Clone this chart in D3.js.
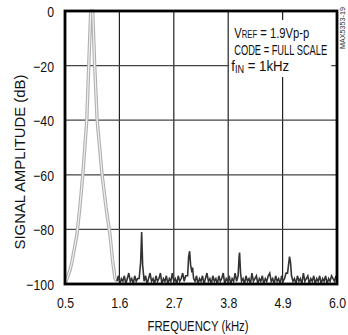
<!DOCTYPE html>
<html>
<head>
<meta charset="utf-8">
<script src="https://cdn.jsdelivr.net/npm/d3@7"></script>
<style>
  body { margin: 0; background: #fff; }
  svg { display: block; font-family: "Liberation Sans", Arial, sans-serif; }
</style>
</head>
<body>
<svg id="chart" width="348" height="335"></svg>
<script>
// axis ticks
const xTicks = [0.5, 1.6, 2.7, 3.8, 4.9, 6.0]
const yTicks = [0, -20, -40, -60, -80, -100]

// fundamental lobe (kHz, dB)
const lobeFreq = [0.50, 0.52, 0.56, 0.60, 0.64, 0.68, 0.74, 0.80, 0.86, 0.90, 0.94, 0.97, 1.00, 1.02, 1.06, 1.08, 1.10, 1.15, 1.20, 1.25, 1.33, 1.41, 1.46, 1.51, 1.55]
const lobeDb   = [-100, -99, -97, -95, -92, -88, -82, -72, -60, -50, -40, -25, -10, 0, 0, -10, -20, -40, -50, -60, -72, -82, -91, -98, -99]

// noise floor and harmonics (kHz, dB)
const floorFreq = [1.55, 1.58, 1.61, 1.64, 1.67, 1.70, 1.73, 1.76, 1.79, 1.82, 1.85, 1.88, 1.91, 1.94, 1.97, 2.00, 2.03, 2.05, 2.07, 2.10, 2.13, 2.16, 2.19, 2.22, 2.25, 2.28, 2.31, 2.34, 2.37, 2.40, 2.43, 2.46, 2.49, 2.52, 2.55, 2.58, 2.61, 2.64, 2.67, 2.70, 2.73, 2.76, 2.79, 2.82, 2.85, 2.88, 2.91, 2.94, 2.98, 3.00, 3.02, 3.04, 3.06, 3.08, 3.10, 3.13, 3.16, 3.19, 3.22, 3.25, 3.28, 3.31, 3.34, 3.37, 3.40, 3.43, 3.46, 3.49, 3.52, 3.55, 3.58, 3.61, 3.64, 3.67, 3.70, 3.73, 3.76, 3.79, 3.82, 3.85, 3.88, 3.91, 3.94, 3.97, 4.00, 4.02, 4.03, 4.05, 4.07, 4.10, 4.13, 4.16, 4.19, 4.22, 4.25, 4.28, 4.31, 4.34, 4.37, 4.40, 4.43, 4.46, 4.49, 4.52, 4.55, 4.58, 4.61, 4.64, 4.67, 4.70, 4.73, 4.76, 4.79, 4.82, 4.85, 4.88, 4.91, 4.94, 4.97, 5.00, 5.02, 5.04, 5.06, 5.08, 5.11, 5.14, 5.17, 5.20, 5.23, 5.26, 5.29, 5.32, 5.35, 5.38, 5.41, 5.44, 5.47, 5.50, 5.53, 5.56, 5.59, 5.62, 5.65, 5.68, 5.71, 5.74, 5.77, 5.80, 5.83, 5.86, 5.89, 5.92, 5.95, 5.98]
const floorDb   = [-99, -97, -100, -98, -99, -97, -100, -98, -96, -99, -98, -100, -97, -99, -98, -98, -92, -81, -93, -99, -97, -100, -98, -96, -99, -98, -100, -97, -99, -98, -96, -100, -98, -99, -97, -100, -98, -99, -96, -99, -98, -100, -97, -99, -98, -96, -99, -97, -97, -90, -88, -93, -95, -94, -98, -99, -97, -100, -98, -99, -97, -100, -98, -96, -99, -98, -100, -97, -99, -98, -100, -97, -99, -98, -96, -100, -98, -99, -97, -100, -98, -99, -96, -99, -97, -90, -88.5, -96, -99, -98, -100, -97, -99, -98, -100, -96, -99, -98, -97, -100, -98, -99, -97, -100, -98, -99, -97, -96, -99, -98, -100, -97, -99, -98, -100, -97, -99, -98, -96, -96, -93, -90, -92, -97, -99, -98, -100, -97, -99, -98, -100, -96, -99, -98, -97, -100, -98, -99, -97, -100, -98, -99, -97, -100, -98, -99, -97, -100, -98, -99, -97, -98, -99, -97]

const MARGIN = { LEFT: 65, RIGHT: 11, TOP: 11, BOTTOM: 51 }
const WIDTH = 348 - MARGIN.LEFT - MARGIN.RIGHT
const HEIGHT = 335 - MARGIN.TOP - MARGIN.BOTTOM

const svg = d3.select("#chart")
const g = svg.append("g").attr("transform", `translate(${MARGIN.LEFT}, ${MARGIN.TOP})`)

// squeeze a text to look like the narrow Helvetica of the original
function narrow(sel, w) {
    sel.each(function () {
        const len = w || this.getComputedTextLength() * 0.82
        d3.select(this).attr("textLength", len).attr("lengthAdjust", "spacingAndGlyphs")
    })
}

// scales
const x = d3.scaleLinear().domain([0.5, 6.0]).range([0, WIDTH])
const y = d3.scaleLinear().domain([-100, 0]).range([HEIGHT, 0])

// grid
g.append("g").selectAll("line").data(xTicks.slice(1, -1)).join("line")
    .attr("x1", d => x(d)).attr("x2", d => x(d))
    .attr("y1", 0).attr("y2", HEIGHT)
    .attr("stroke", "#222").attr("stroke-width", 1.2)
g.append("g").selectAll("line").data(yTicks.slice(1, -1)).join("line")
    .attr("x1", 0).attr("x2", WIDTH)
    .attr("y1", d => y(d)).attr("y2", d => y(d))
    .attr("stroke", "#444").attr("stroke-width", 1.2)

// spectrum
const line = d3.line().x(d => x(d[0])).y(d => y(d[1]))
const lobe = lobeFreq.map((f, i) => [f, lobeDb[i]])
const floor = floorFreq.map((f, i) => [f, floorDb[i]])

g.append("path").attr("d", line(lobe)).attr("fill", "none")
    .attr("stroke", "#b0b0b0").attr("stroke-width", 3.4).attr("stroke-linejoin", "round")
g.append("path").attr("d", line(lobe)).attr("fill", "none")
    .attr("stroke", "#f0f0f0").attr("stroke-width", 1.2).attr("stroke-linejoin", "round")
g.append("path").attr("d", line(floor)).attr("fill", "none")
    .attr("stroke", "#333").attr("stroke-width", 1.6)

// annotation box
const bx = x(3.8)
g.append("rect")
    .attr("x", bx + 1).attr("y", 9)
    .attr("width", 102).attr("height", 57)
    .attr("fill", "#fff")
const l1 = g.append("text").attr("x", bx + 6).attr("y", 27).attr("font-size", 14.5).attr("fill", "#111")
l1.append("tspan").text("V")
l1.append("tspan").attr("font-size", 10).text("REF")
l1.append("tspan").text(" = 1.9Vp-p")
narrow(l1, 75)
const l2 = g.append("text").attr("x", bx + 6).attr("y", 43.5).attr("font-size", 14.5).attr("fill", "#111")
    .text("CODE = FULL SCALE")
narrow(l2, 93)
const l3 = g.append("text").attr("x", bx + 3).attr("y", 60).attr("font-size", 14.5).attr("fill", "#111")
l3.append("tspan").text("f")
l3.append("tspan").attr("font-size", 10).attr("dy", 2).text("IN")
l3.append("tspan").attr("dy", -2).text(" = 1kHz")
narrow(l3, 58)

// frame
g.append("rect").attr("width", WIDTH).attr("height", HEIGHT)
    .attr("fill", "none").attr("stroke", "#000").attr("stroke-width", 2.8)

// axes (labels only)
const xAxis = g.append("g").attr("transform", `translate(0, ${HEIGHT})`)
    .call(d3.axisBottom(x).tickValues(xTicks).tickFormat(d3.format(".1f")).tickSize(0).tickPadding(13))
const yAxis = g.append("g")
    .call(d3.axisLeft(y).tickValues(yTicks).tickSize(0).tickPadding(11))
g.selectAll(".domain").remove()
g.selectAll(".tick text").attr("font-size", 15).attr("font-family", null).attr("fill", "#111")
yAxis.selectAll(".tick text").attr("dy", "0.36em")
narrow(g.selectAll(".tick text"))

// axis titles
const xt = svg.append("text").attr("x", 198).attr("y", 331)
    .attr("text-anchor", "middle").attr("font-size", 15.5).attr("fill", "#111")
    .text("FREQUENCY (kHz)")
narrow(xt, 101)
const yt = svg.append("text").attr("transform", "translate(25, 162) rotate(-90)")
    .attr("text-anchor", "middle").attr("font-size", 14.5).attr("fill", "#111")
    .text("SIGNAL AMPLITUDE (dB)")
narrow(yt, 175)

// part number
const pn = svg.append("text").attr("transform", "translate(345, 28) rotate(-90)")
    .attr("text-anchor", "middle").attr("font-size", 8).attr("fill", "#333")
    .text("MAX5353-19")
narrow(pn, 42)
</script>
</body>
</html>
